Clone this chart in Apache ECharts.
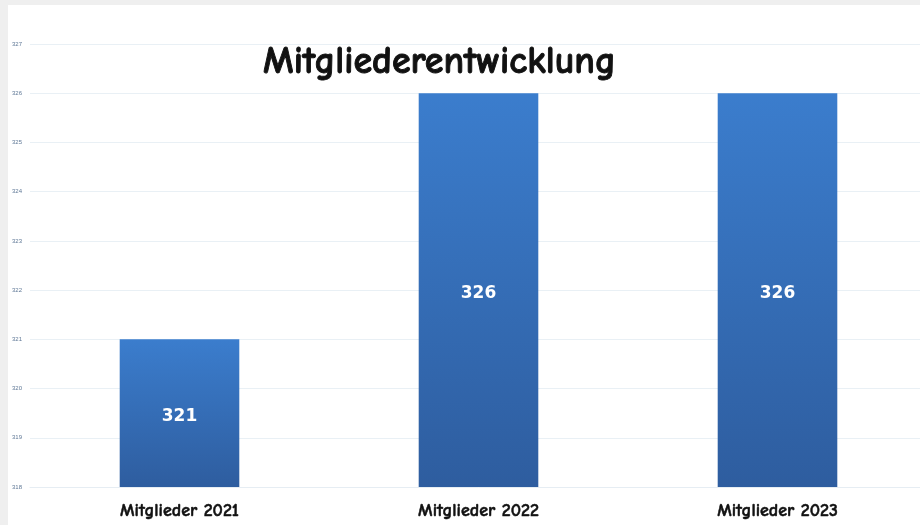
<!DOCTYPE html>
<html>
<head>
<meta charset="utf-8">
<script src="https://cdn.jsdelivr.net/npm/echarts@6/dist/echarts.min.js"></script>
<style>
html, body { margin: 0; padding: 0; background: #efefef; overflow: hidden; width: 920px; height: 525px; }
#chart { position: absolute; left: 8px; top: 5px; width: 919px; height: 520px; background: #fff; }
</style>
</head>
<body>
<div id="chart"></div>
<script>
// Mitgliederzahlen je Jahr
const categories = ['Mitglieder 2021', 'Mitglieder 2022', 'Mitglieder 2023'];
const members = [321, 326, 326];
const yMin = 318;
const yMax = 327;

const chart = echarts.init(document.getElementById('chart'));
const comic = '"Comic Sans MS", "Comic Neue", "DejaVu Sans", sans-serif';

chart.setOption({
  animation: false,
  title: {
    text: 'Mitgliederentwicklung',
    left: 250,
    top: 33,
    textStyle: {
      fontFamily: comic, fontSize: 38, fontWeight: 'bold', color: '#111',
      textBorderColor: '#111', textBorderWidth: 0.9
    }
  },
  grid: { left: 22, right: 0, top: 39, bottom: 38 },
  xAxis: {
    type: 'category',
    data: categories,
    axisLine: { lineStyle: { color: '#e6edf3' } },
    axisTick: { show: false },
    axisLabel: {
      margin: 15, fontFamily: comic, fontSize: 18, fontWeight: 'bold', color: '#111',
      textBorderColor: '#111', textBorderWidth: 0.5
    }
  },
  yAxis: {
    type: 'value',
    min: yMin,
    max: yMax,
    interval: 1,
    axisLine: { show: false },
    axisTick: { show: false },
    axisLabel: { margin: 8, fontSize: 6, color: '#5f7896' },
    splitLine: { lineStyle: { color: '#e9f0f5' } }
  },
  series: [{
    type: 'bar',
    data: members,
    barWidth: '40%',
    itemStyle: {
      color: new echarts.graphic.LinearGradient(0, 0, 0, 1, [
        { offset: 0, color: '#3b7dcd' },
        { offset: 1, color: '#2e5d9f' }
      ])
    },
    label: {
      show: true,
      position: 'inside',
      offset: [0, 3],
      fontFamily: '"DejaVu Sans", Verdana, sans-serif',
      fontSize: 17,
      fontWeight: 'bold',
      color: '#fff'
    }
  }]
});
</script>
</body>
</html>
